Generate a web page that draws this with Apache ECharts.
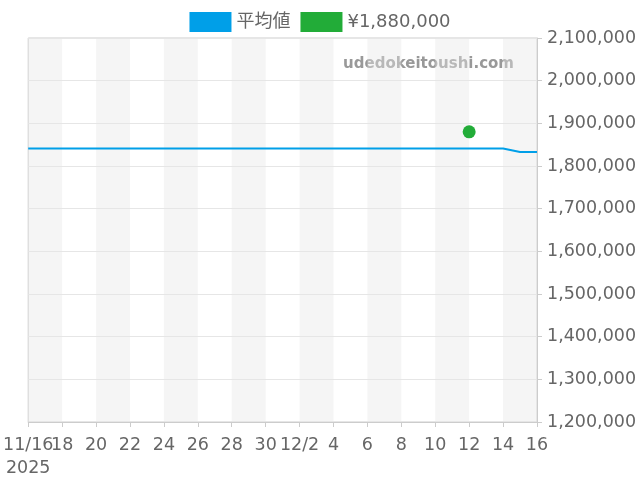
<!DOCTYPE html>
<html>
<head>
<meta charset="utf-8">
<script src="https://cdn.jsdelivr.net/npm/echarts@6/dist/echarts.min.js"></script>
<style>html,body{margin:0;padding:0;background:#fff}#c{width:640px;height:480px}</style>
</head>
<body>
<div id="c"></div>
<script>
var dates = ['11/16','11/17','11/18','11/19','11/20','11/21','11/22','11/23','11/24','11/25','11/26','11/27','11/28','11/29','11/30',
  '12/1','12/2','12/3','12/4','12/5','12/6','12/7','12/8','12/9','12/10','12/11','12/12','12/13','12/14','12/15','12/16'];
var tickLabels = ['11/16\n2025','18','20','22','24','26','28','30','12/2','4','6','8','10','12','14','16'];
var avgValues = [1841000,1841000,1841000,1841000,1841000,1841000,1841000,1841000,1841000,1841000,1841000,1841000,1841000,1841000,1841000,
  1841000,1841000,1841000,1841000,1841000,1841000,1841000,1841000,1841000,1841000,1841000,1841000,1841000,1841000,1833000,1833000];
var pointDates = ['12/12'];
var pointValues = [1880000];
var avgName = '平均値';
var pointName = '¥1,880,000';

var scatterData = pointDates.map(function(d, i){ return [d, pointValues[i]]; });
var labelMap = {};
dates.forEach(function(d, i){ if (i % 2 === 0) labelMap[d] = tickLabels[i/2]; });
var firstDate = dates[0];

var labelBase = {fontSize: 17.5, lineHeight: 23, color: '#666', fontFamily: 'DejaVu Sans', margin: 12};

var chart = echarts.init(document.getElementById('c'));
chart.setOption({
  animation: false,
  legend: {
    top: 7,
    left: 'center',
    itemWidth: 42,
    itemHeight: 20,
    itemGap: 10,
    textStyle: {fontSize: 18, color: '#666', fontFamily: 'DejaVu Sans, Noto Sans CJK JP'},
    data: [{name: avgName, icon: 'rect'}, {name: pointName, icon: 'rect'}]
  },
  grid: {left: 28, right: 103, top: 38, bottom: 58, show: true, borderColor: '#ccc', borderWidth: 1, containLabel: false},
  graphic: [{
    type: 'text', right: 126, top: 57,
    style: {text: 'udedokeitoushi.com', fill: '#999', font: 'bold 15px DejaVu Sans', textAlign: 'right'}
  }],
  xAxis: [{
    type: 'category',
    data: dates,
    boundaryGap: false,
    axisLine: {lineStyle: {color: '#ccc'}},
    axisTick: {interval: 1, lineStyle: {color: '#ccc'}},
    axisLabel: Object.assign({
      interval: 1,
      formatter: function(v){ return v === firstDate ? '' : (labelMap[v] || ''); }
    }, labelBase),
    splitLine: {show: false},
    splitArea: {show: true, interval: 1, areaStyle: {color: ['rgba(230,230,230,0.4)', 'rgba(255,255,255,0)']}}
  }, {
    type: 'category',
    data: dates,
    position: 'bottom',
    boundaryGap: false,
    axisLine: {show: false},
    axisTick: {show: false},
    splitLine: {show: false},
    splitArea: {show: false},
    axisLabel: Object.assign({
      interval: 0, showMinLabel: true,
      formatter: function(v){ return v === firstDate ? labelMap[v] : ''; }
    }, labelBase)
  }],
  yAxis: {
    type: 'value',
    position: 'right',
    min: 1200000, max: 2100000, interval: 100000,
    axisLine: {show: true, lineStyle: {color: '#ccc'}},
    axisTick: {show: true, lineStyle: {color: '#ccc'}},
    axisLabel: {fontSize: 17.5, color: '#666', fontFamily: 'DejaVu Sans', margin: 10,
      formatter: function(v){ return v.toLocaleString('en-US'); }},
    splitLine: {lineStyle: {color: '#e6e6e6'}}
  },
  series: [
    {name: avgName, type: 'line', data: avgValues, showSymbol: false, symbol: 'none',
     lineStyle: {color: '#009fe8', width: 2}, itemStyle: {color: '#009fe8'}},
    {name: pointName, type: 'scatter', data: scatterData, symbolSize: 13,
     itemStyle: {color: '#22ac38', opacity: 1}}
  ]
});
</script>
</body>
</html>
